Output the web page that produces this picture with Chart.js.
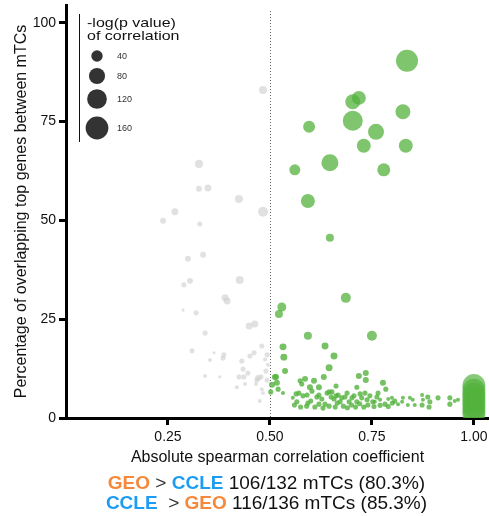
<!DOCTYPE html>
<html>
<head>
<meta charset="utf-8">
<script src="https://cdn.jsdelivr.net/npm/chart.js@4.4.1/dist/chart.umd.min.js"></script>
<style>
  body { margin: 0; background: #fff; }
  #wrap { position: relative; width: 489px; height: 516px; }
  #chart { position: absolute; left: 0; top: 0; }
  .summary {
    position: absolute; left: 22px; width: 489px; text-align: center;
    font-family: "Liberation Sans", Arial, sans-serif; font-size: 19px; color: #111;
    line-height: 20px; white-space: pre;
  }
  .geo { color: #f5893b; font-weight: bold; }
  .ccle { color: #1c9cf3; font-weight: bold; }
  .gt { color: #333; }
</style>
</head>
<body>
<div id="wrap">
  <canvas id="chart" width="489" height="516"></canvas>
  <div class="summary" style="top:473px"><span class="geo">GEO</span><span class="gt"> &gt; </span><span class="ccle">CCLE</span> 106/132 mTCs (80.3%)</div>
  <div class="summary" style="top:493px"><span class="ccle">CCLE</span><span class="gt">  &gt; </span><span class="geo">GEO</span> 116/136 mTCs (85.3%)</div>
</div>
<script>
// each point: [abs spearman r, % overlapping top genes, -log(p value)]
const grayPoints = [
  [0.483, 83.0, 20], [0.326, 64.3, 20], [0.326, 58.0, 11], [0.348, 58.2, 15],
  [0.424, 55.4, 20], [0.267, 52.2, 15], [0.238, 49.9, 11], [0.483, 52.2, 31],
  [0.328, 49.1, 8], [0.299, 40.3, 11], [0.336, 41.3, 11], [0.304, 34.7, 11],
  [0.289, 33.7, 8], [0.426, 34.9, 20], [0.390, 30.4, 15], [0.395, 29.6, 15],
  [0.287, 27.3, 3], [0.319, 26.6, 8], [0.449, 23.3, 15], [0.463, 23.8, 15],
  [0.341, 21.5, 8], [0.309, 17.0, 8], [0.363, 16.5, 3], [0.387, 16.0, 8],
  [0.385, 15.2, 8], [0.353, 14.7, 5], [0.431, 14.4, 8], [0.451, 15.7, 8],
  [0.461, 16.5, 8], [0.480, 18.2, 8], [0.493, 16.0, 8], [0.341, 10.6, 5],
  [0.377, 10.4, 3], [0.434, 12.4, 8], [0.446, 11.4, 8], [0.424, 10.4, 8],
  [0.436, 10.4, 8], [0.490, 11.9, 8], [0.471, 10.1, 11], [0.478, 10.4, 8],
  [0.468, 9.6, 8], [0.439, 8.6, 5], [0.419, 7.8, 5], [0.466, 8.6, 5],
  [0.480, 7.3, 5], [0.483, 6.3, 5], [0.475, 4.3, 5], [0.493, 9.6, 8],
  [0.495, 13.5, 5], [0.488, 14.8, 5]
];

const greenLarge = [
  [0.836, 90.4, 149], [0.703, 80.0, 69], [0.718, 81.0, 60], [0.703, 75.2, 123],
  [0.826, 77.5, 69], [0.596, 73.7, 44], [0.760, 72.4, 79], [0.730, 68.9, 60],
  [0.833, 68.9, 60], [0.647, 64.6, 89], [0.561, 62.8, 37], [0.779, 62.8, 52],
  [0.593, 54.9, 60], [0.647, 45.6, 20], [0.686, 30.4, 31], [0.529, 28.1, 25],
  [0.522, 26.3, 20], [0.593, 20.8, 20], [0.750, 20.8, 31]
];

const greenSmall = [
  [0.532, 18.0, 15], [0.635, 18.2, 15], [0.534, 15.4, 15], [0.657, 15.7, 15],
  [0.645, 12.7, 15], [0.537, 11.9, 11], [0.515, 10.4, 11], [0.632, 10.4, 11],
  [0.718, 10.6, 11], [0.735, 11.4, 11], [0.735, 9.6, 11], [0.777, 8.9, 11],
  [0.784, 7.3, 8], [0.662, 8.1, 8], [0.608, 9.4, 11], [0.598, 7.8, 11],
  [0.603, 6.8, 8], [0.620, 7.8, 11], [0.586, 9.9, 11], [0.574, 9.4, 8],
  [0.578, 8.6, 8], [0.505, 8.4, 11], [0.502, 6.6, 8], [0.517, 8.9, 11],
  [0.532, 6.3, 5], [0.512, 10.4, 11], [0.520, 7.3, 8], [0.713, 7.8, 8]
];

const greenBand = [
  [0.556, 5.1, 5], [0.564, 6.1, 8], [0.571, 6.3, 8], [0.566, 4.1, 8],
  [0.581, 5.6, 8], [0.591, 5.8, 8], [0.593, 3.8, 8], [0.615, 5.3, 8],
  [0.620, 5.8, 8], [0.627, 4.8, 8], [0.635, 3.5, 8], [0.640, 6.3, 8],
  [0.645, 6.6, 8], [0.650, 5.3, 8], [0.652, 6.6, 8], [0.657, 4.8, 8],
  [0.662, 5.6, 8], [0.667, 5.8, 8], [0.672, 4.1, 8], [0.676, 5.1, 8],
  [0.684, 5.3, 8], [0.689, 6.3, 8], [0.694, 4.1, 8], [0.701, 5.1, 8],
  [0.706, 5.6, 8], [0.713, 4.1, 8], [0.721, 6.1, 8], [0.725, 5.1, 8],
  [0.733, 6.3, 8], [0.738, 4.6, 8], [0.745, 5.6, 8], [0.752, 4.1, 8],
  [0.762, 5.3, 8], [0.765, 6.3, 8], [0.757, 4.1, 5], [0.782, 3.5, 8],
  [0.799, 5.1, 5], [0.806, 4.3, 8], [0.814, 3.5, 5], [0.824, 4.1, 5],
  [0.826, 5.1, 5], [0.838, 3.3, 5], [0.843, 5.1, 5], [0.850, 4.6, 5],
  [0.855, 3.3, 5], [0.873, 5.8, 5], [0.875, 4.6, 5], [0.873, 3.3, 8],
  [0.887, 5.3, 8], [0.892, 4.1, 8], [0.890, 2.8, 8], [0.912, 5.1, 8],
  [0.941, 5.1, 8], [0.941, 3.5, 8], [0.953, 4.3, 5], [0.961, 4.6, 5],
  [0.560, 3.3, 8], [0.575, 2.8, 8], [0.590, 3.0, 8], [0.600, 4.3, 8],
  [0.610, 2.8, 8], [0.620, 3.5, 8], [0.630, 2.5, 8], [0.645, 3.0, 8],
  [0.660, 2.8, 8], [0.665, 3.8, 8], [0.680, 3.0, 8], [0.690, 2.6, 8],
  [0.700, 3.3, 8], [0.710, 2.8, 8], [0.720, 3.6, 8], [0.730, 2.8, 8],
  [0.740, 3.3, 8], [0.755, 2.9, 8], [0.770, 3.2, 8], [0.790, 2.9, 8],
  [0.800, 3.8, 8], [0.770, 4.6, 5], [0.790, 4.8, 5]
];

// mTCs with identical top genes (|r| = 1)
const perfectCorr = [
  [1.0, 8.2, 163], [1.0, 7.0, 163], [1.0, 6.0, 163], [1.0, 5.0, 163],
  [1.0, 4.0, 163], [1.0, 3.0, 163], [1.0, 2.0, 163], [1.0, 1.0, 163]
];

const xTicks = [0.25, 0.5, 0.75, 1.0];
const yTicks = [0, 25, 50, 75, 100];
const legendSizes = [40, 80, 120, 160];

const FONT = "'Liberation Sans', Arial, sans-serif";
const radius = p => 0.9 * Math.sqrt(p);
const toBubbles = rows => rows.map(d => ({ x: d[0], y: d[1], r: radius(d[2]) }));

const cutoffLine = {
  id: 'cutoffLine',
  beforeDatasetsDraw(chart) {
    const { ctx, chartArea } = chart;
    const x = Math.round(chart.scales.x.getPixelForValue(0.5)) + 0.5;
    ctx.save();
    ctx.strokeStyle = '#666';
    ctx.lineWidth = 1;
    ctx.setLineDash([1, 2]);
    ctx.beginPath();
    ctx.moveTo(x, chartArea.top + 6);
    ctx.lineTo(x, chartArea.bottom);
    ctx.stroke();
    ctx.restore();
  }
};

const sizeLegend = {
  id: 'sizeLegend',
  afterDraw(chart) {
    const ctx = chart.ctx;
    ctx.save();
    ctx.strokeStyle = '#111';
    ctx.lineWidth = 1;
    ctx.beginPath();
    ctx.moveTo(79.5, 14);
    ctx.lineTo(79.5, 142);
    ctx.stroke();
    // title (slightly condensed vertically, as in the figure)
    ctx.save();
    ctx.fillStyle = '#111';
    ctx.font = '16px ' + FONT;
    ctx.textBaseline = 'alphabetic';
    ctx.scale(1, 0.82);
    ctx.fillText('-log(p value)', 87, 27 / 0.82);
    ctx.fillText('of correlation', 87, 40 / 0.82);
    ctx.restore();
    const ys = [56, 76, 99, 128];
    legendSizes.forEach((s, i) => {
      ctx.fillStyle = '#333';
      ctx.beginPath();
      ctx.arc(97, ys[i], radius(s), 0, Math.PI * 2);
      ctx.fill();
      ctx.font = '9px ' + FONT;
      ctx.textBaseline = 'middle';
      ctx.fillText(String(s), 117, ys[i] + 1);
    });
    ctx.restore();
  }
};

new Chart(document.getElementById('chart'), {
  type: 'bubble',
  data: {
    datasets: [
      { data: toBubbles(grayPoints), backgroundColor: 'rgba(205,205,205,0.6)', borderWidth: 0, clip: 0 },
      { data: toBubbles([...greenSmall, ...greenBand]), backgroundColor: 'rgba(83,178,60,0.8)', borderWidth: 0, clip: 0 },
      { data: toBubbles(greenLarge), backgroundColor: 'rgba(83,178,60,0.75)', borderWidth: 0, clip: 0 },
      { data: toBubbles(perfectCorr), backgroundColor: 'rgba(83,178,60,0.7)', borderWidth: 0, clip: 0 }
    ]
  },
  options: {
    responsive: false,
    animation: false,
    layout: { autoPadding: false, padding: { top: 5, right: 0, left: 0, bottom: 0 } },
    plugins: { legend: { display: false }, tooltip: { enabled: false } },
    scales: {
      x: {
        type: 'linear',
        min: 0,
        max: 1.037,
        z: 1,
        afterFit: s => { s.height = 98; s.paddingLeft = 0; s.paddingRight = 0; },
        afterBuildTicks: s => { s.ticks = xTicks.map(v => ({ value: v })); },
        grid: { drawOnChartArea: false, tickLength: 7, tickWidth: 3, tickColor: '#000' },
        border: { display: true, color: '#000', width: 3 },
        ticks: {
          color: '#111', padding: 4, maxRotation: 0,
          font: { family: FONT, size: 14 },
          callback: v => v.toFixed(2)
        },
        title: {
          display: true, text: 'Absolute spearman correlation coefficient',
          color: '#111', font: { family: FONT, size: 16 }, padding: { top: 0, bottom: 49 }
        }
      },
      y: {
        type: 'linear',
        min: 0,
        max: 104.5,
        z: 1,
        afterFit: s => { s.width = 66; s.paddingTop = 0; s.paddingBottom = 0; },
        afterBuildTicks: s => { s.ticks = yTicks.map(v => ({ value: v })); },
        grid: { drawOnChartArea: false, tickLength: 7, tickWidth: 3, tickColor: '#000' },
        border: { display: true, color: '#000', width: 3 },
        ticks: { color: '#111', padding: 3, font: { family: FONT, size: 14 } },
        title: {
          display: true, text: 'Percentage of overlapping top genes between mTCs',
          color: '#111', font: { family: FONT, size: 16 }, padding: { top: 12, bottom: 0 }
        }
      }
    }
  },
  plugins: [cutoffLine, sizeLegend]
});
</script>
</body>
</html>
